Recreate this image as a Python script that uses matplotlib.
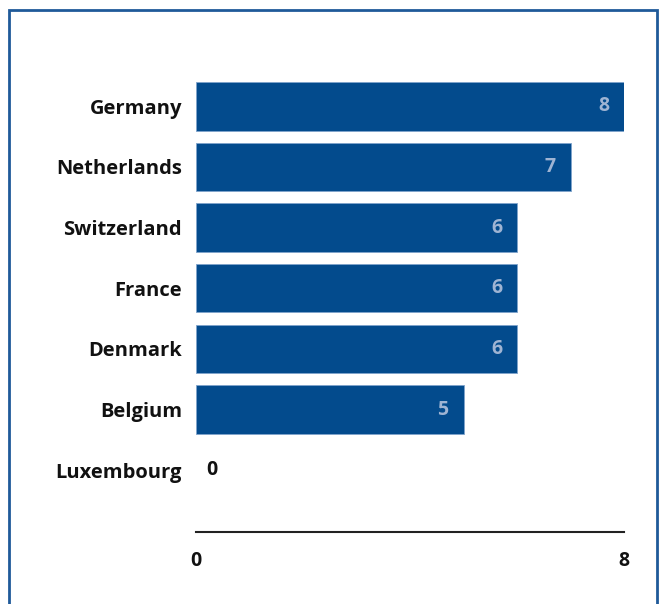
import matplotlib
matplotlib.use("Agg")
import matplotlib.pyplot as plt
from matplotlib.patches import Rectangle

countries = ["Germany", "Netherlands", "Switzerland", "France", "Denmark", "Belgium", "Luxembourg"]
values = [8, 7, 6, 6, 6, 5, 0]

W, H = 660, 604
fig = plt.figure(figsize=(W/100, H/100), dpi=100)
plt.rcParams['font.family'] = ['Open Sans', 'DejaVu Sans']

left, right = 196/W, 624/W
top_px, bot_px = 76, 532
ax = fig.add_axes([left, 1 - bot_px/H, right - left, (bot_px - top_px)/H])

bar_color = "#034B8D"
ypos = list(range(len(countries)))
edge = ["#7FA3CC" if v > 0 else "none" for v in values]
ax.barh(ypos, values, height=0.8, color=bar_color, edgecolor=edge, linewidth=0.6)
ax.set_xlim(0, 8)
ax.set_ylim(7.02, -0.5)

fs = 14
for y, v in zip(ypos, values):
    if v > 0:
        ax.text(v - 0.28, y, str(v), ha="right", va="center", color="#9FB4D3",
                fontsize=fs, fontweight="bold")
    else:
        ax.text(0.2, y, str(v), ha="left", va="center", color="#111111",
                fontsize=fs, fontweight="bold")

ax.set_yticks(ypos)
ax.set_yticklabels(countries, fontsize=fs + 0.5, fontweight="bold", color="#111111")
ax.set_xticks([0, 8])
ax.set_xticklabels(["0", "8"], fontsize=fs, fontweight="bold", color="#111111")
ax.tick_params(axis="y", length=0, pad=10)
ax.tick_params(axis="x", length=0, pad=14)
for s in ["top", "right", "left"]:
    ax.spines[s].set_visible(False)
ax.spines["bottom"].set_color("#222222")
ax.spines["bottom"].set_linewidth(1.5)

fig.patches.append(Rectangle((9/W, -0.05), (657-9)/W, 1.05 - 10/H, transform=fig.transFigure,
                             fill=False, edgecolor="#1F5A99", linewidth=2))

fig.savefig("out.png", dpi=100)
